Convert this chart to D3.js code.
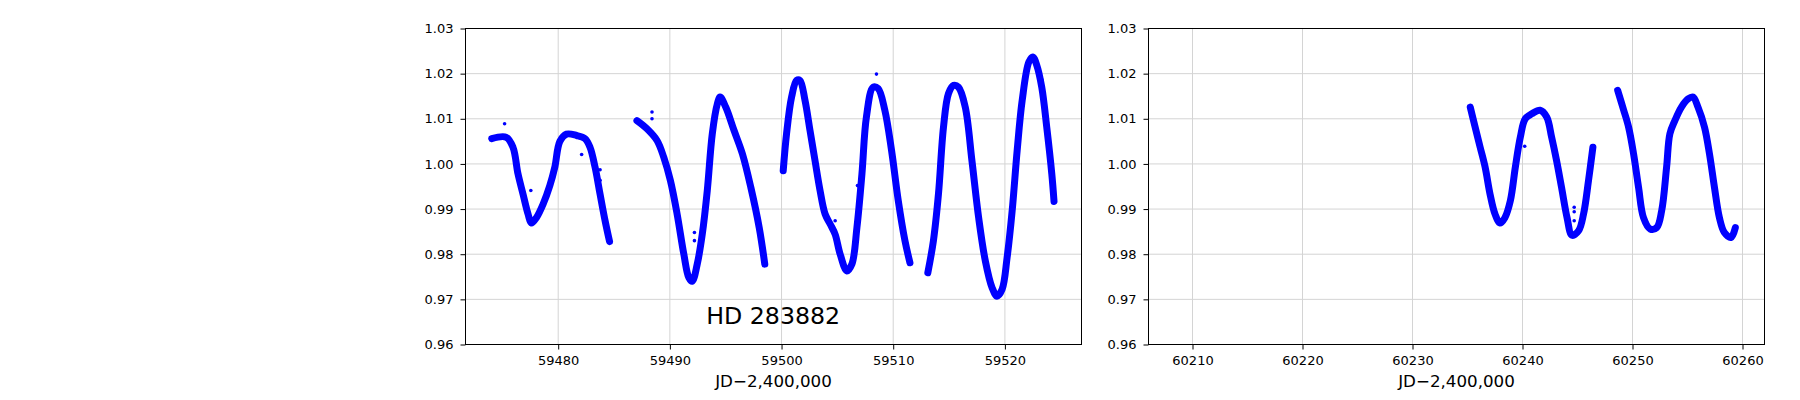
<!DOCTYPE html>
<html>
<head>
<meta charset="utf-8">
<script src="https://cdn.jsdelivr.net/npm/d3@7"></script>
<style>
  body { margin: 0; background: #fff; }
  svg text { font-family: "DejaVu Sans", sans-serif; fill: #000; }
</style>
</head>
<body>
<div id="chart"></div>
<script>
// light curve segments: [JD-2400000, relative flux]
var season1 = [
  [[59474.05,1.0056],[59475.35,1.0059],[59475.95,1.0037],[59476.4,0.9978],[59476.85,0.9933],[59477.3,0.9889],[59477.6,0.9869],[59478.05,0.9881],[59478.65,0.9911],[59479.25,0.9952],[59479.7,0.9993],[59480.15,1.0050],[59480.75,1.0066],[59481.65,1.0063],[59482.4,1.0056],[59482.85,1.0037],[59483.3,0.9993],[59483.75,0.9933],[59484.2,0.9874],[59484.6,0.9828]],
  [[59487.05,1.0096],[59487.95,1.0078],[59488.85,1.0052],[59489.45,1.0015],[59490.05,0.9963],[59490.65,0.9889],[59491.25,0.9800],[59491.7,0.9748],[59492.0,0.9740],[59492.45,0.9778],[59492.9,0.9844],[59493.35,0.9941],[59493.8,1.0067],[59494.25,1.0133],[59494.5,1.0148],[59495.0,1.0126],[59495.75,1.0074],[59496.5,1.0022],[59497.25,0.9948],[59498.0,0.9859],[59498.5,0.9778]],
  [[59500.15,0.9985],[59500.45,1.0067],[59500.9,1.0148],[59501.35,1.0185],[59501.65,1.0185],[59502.1,1.0141],[59502.55,1.0074],[59503.0,1.0007],[59503.45,0.9941],[59503.9,0.9889],[59504.35,0.9867],[59504.8,0.9844],[59505.25,0.9800],[59505.85,0.9763],[59506.3,0.9778],[59506.75,0.9859],[59507.2,0.9978],[59507.6,1.0104],[59508.2,1.0170],[59508.65,1.0167],[59509.25,1.0119],[59509.85,1.0030],[59510.45,0.9919],[59511.05,0.9830],[59511.5,0.9781]],
  [[59513.1,0.9759],[59513.6,0.9830],[59514.05,0.9933],[59514.5,1.0081],[59514.95,1.0156],[59515.4,1.0174],[59515.85,1.0170],[59516.45,1.0126],[59517.05,1.0007],[59517.65,0.9881],[59518.25,0.9785],[59518.85,0.9726],[59519.3,0.9707],[59519.75,0.9722],[59520.2,0.9793],[59520.65,0.9896],[59521.1,1.0030],[59521.55,1.0141],[59522.15,1.0226],[59522.5,1.0237],[59522.85,1.0219],[59523.3,1.0170],[59523.75,1.0081],[59524.2,0.9978],[59524.4,0.9917]]
];
var season2 = [
  [[60235.25,1.0126],[60235.7,1.0081],[60236.15,1.0037],[60236.6,0.9993],[60237.05,0.9933],[60237.5,0.9889],[60237.95,0.9869],[60238.4,0.9881],[60238.9,0.9919],[60239.35,0.9993],[60239.8,1.0059],[60240.25,1.0100],[60240.85,1.0111],[60241.6,1.0119],[60242.2,1.0104],[60242.65,1.0059],[60243.1,1.0007],[60243.55,0.9948],[60244.05,0.9881],[60244.5,0.9842],[60245.1,0.9852],[60245.55,0.9889],[60246.0,0.9963],[60246.4,1.0037]],
  [[60248.65,1.0163],[60249.2,1.0119],[60249.65,1.0081],[60250.1,1.0022],[60250.55,0.9948],[60251.0,0.9881],[60251.6,0.9856],[60252.2,0.9859],[60252.65,0.9896],[60253.1,0.9993],[60253.4,1.0067],[60253.85,1.0096],[60254.45,1.0126],[60255.05,1.0144],[60255.5,1.0148],[60255.95,1.0126],[60256.55,1.0081],[60257.0,1.0022],[60257.45,0.9948],[60257.9,0.9881],[60258.35,0.9848],[60258.95,0.9837],[60259.35,0.9859]]
];
// stray points off the main band
var outliers1 = [[59477.55,0.9941],[59483.75,0.9987],[59483.75,0.9964],[59482.1,1.0021],[59488.4,1.0115],[59488.4,1.0100],[59492.2,0.9848],[59492.2,0.9830],[59496.1,1.0059],[59475.2,1.0089],[59508.5,1.0199],[59504.8,0.9874],[59506.8,0.9952],[59523.3,1.0187]];
var outliers2 = [[60240.2,1.0039],[60244.7,0.9904],[60244.7,0.9894],[60244.7,0.9874]];

var xTicks1 = [59480, 59490, 59500, 59510, 59520];
var xTicks2 = [60210, 60220, 60230, 60240, 60250, 60260];
var yTicks = [0.96, 0.97, 0.98, 0.99, 1.00, 1.01, 1.02, 1.03];
var xLabel = "JD\u22122,400,000";
var starName = "HD 283882";

var W = 1800, H = 400;
var svg = d3.select('#chart').append('svg')
  .attr('width', W)
  .attr('height', H);

var plotTop = 28.5, plotBottom = 344.5;
var y = d3.scaleLinear().domain([0.96, 1.03]).range([plotBottom, plotTop]);

function panel(left, right, xDomain, xTicks, segments, outliers) {
  var x = d3.scaleLinear().domain(xDomain).range([left, right]);
  var g = svg.append('g');

  // grid
  g.append('g').selectAll('line')
    .data(xTicks).enter().append('line')
    .attr('x1', d => x(d)).attr('x2', d => x(d))
    .attr('y1', plotTop).attr('y2', plotBottom)
    .attr('stroke', '#d4d4d4').attr('stroke-width', 1);
  g.append('g').selectAll('line')
    .data(yTicks).enter().append('line')
    .attr('x1', left).attr('x2', right)
    .attr('y1', d => y(d)).attr('y2', d => y(d))
    .attr('stroke', '#d4d4d4').attr('stroke-width', 1);

  // data band
  var line = d3.line()
    .x(d => x(d[0]))
    .y(d => y(d[1]))
    .curve(d3.curveCatmullRom);
  g.append('g').selectAll('path')
    .data(segments).enter().append('path')
    .attr('d', line)
    .attr('fill', 'none')
    .attr('stroke', '#0000ff')
    .attr('stroke-width', 7)
    .attr('stroke-linecap', 'round')
    .attr('stroke-linejoin', 'round');
  g.append('g').selectAll('circle')
    .data(outliers).enter().append('circle')
    .attr('cx', d => x(d[0]))
    .attr('cy', d => y(d[1]))
    .attr('r', 1.8)
    .attr('fill', '#0000ff');

  // axes
  var xAxis = d3.axisBottom(x).tickValues(xTicks).tickFormat(d3.format('d'))
    .tickSize(5).tickPadding(6).tickSizeOuter(0);
  var gx = g.append('g').attr('transform', `translate(0,${plotBottom})`).call(xAxis);
  var yAxis = d3.axisLeft(y).tickValues(yTicks).tickFormat(d3.format('.2f'))
    .tickSize(5).tickPadding(7).tickSizeOuter(0);
  var gy = g.append('g').attr('transform', `translate(${left},0)`).call(yAxis);
  [gx, gy].forEach(a => {
    a.select('.domain').remove();
    a.selectAll('text').attr('font-size', 13).attr('font-family', '"DejaVu Sans", sans-serif').attr('fill', '#000');
    a.selectAll('line').attr('stroke', '#000');
  });

  g.append('rect')
    .attr('x', left).attr('y', plotTop)
    .attr('width', right - left).attr('height', plotBottom - plotTop)
    .attr('fill', 'none').attr('stroke', '#000').attr('stroke-width', 1);

  g.append('text')
    .attr('x', (left + right) / 2)
    .attr('y', 387)
    .attr('text-anchor', 'middle')
    .attr('font-size', 16.7)
    .text(xLabel);
  return x;
}

var x1 = panel(465.5, 1081.5, [59471.7, 59526.86], xTicks1, season1, outliers1);
panel(1148.5, 1764.5, [60206, 60262], xTicks2, season2, outliers2);

svg.append('text')
  .attr('x', x1(59493.25))
  .attr('y', y(0.96455))
  .attr('font-size', 23.7)
  .text(starName);
</script>
</body>
</html>
